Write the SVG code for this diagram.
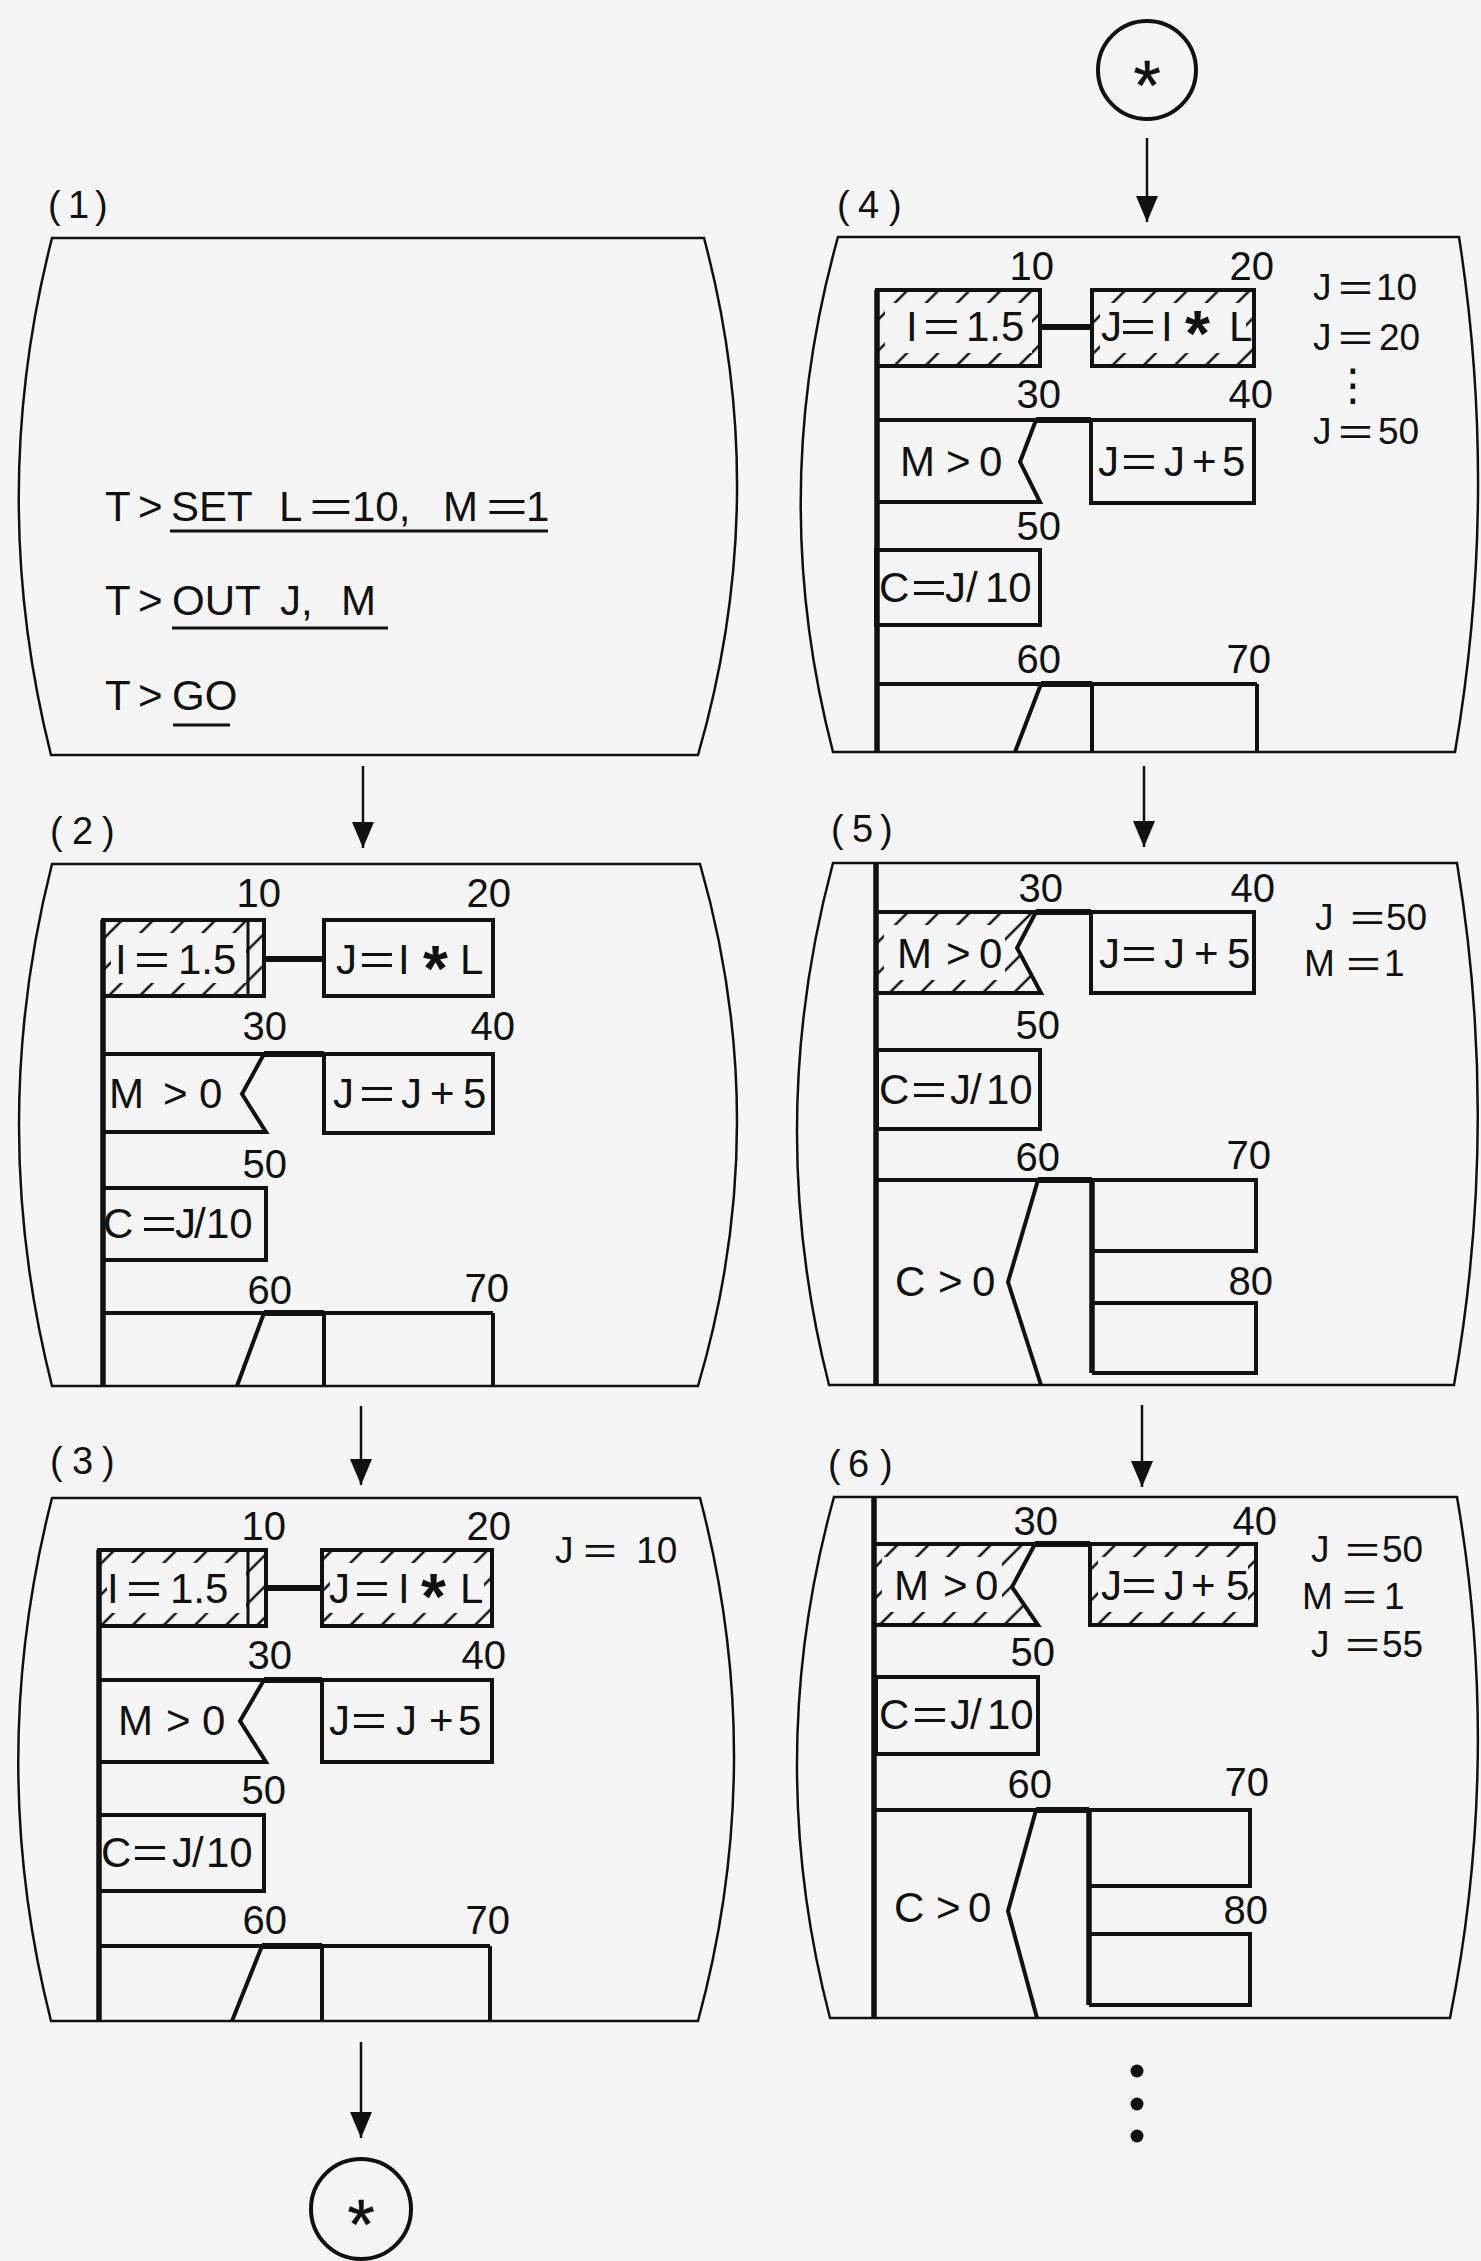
<svg xmlns="http://www.w3.org/2000/svg" width="1481" height="2261" viewBox="0 0 1481 2261">
<defs>
<style>
.scr{fill:none;stroke:#111;stroke-width:2.5}
.bx{fill:none;stroke:#111;stroke-width:4;stroke-linejoin:miter}
.th{fill:none;stroke:#111;stroke-width:6}
.sp{fill:none;stroke:#111;stroke-width:5.5}
.ln{fill:none;stroke:#111;stroke-width:3}
.h{fill:url(#hatch);fill-rule:evenodd;stroke:none}
.t{font-family:"Liberation Sans",Arial,sans-serif;fill:#111}
.n{font-size:40px;text-anchor:end}
.b{font-size:42px}
.v{font-size:37px}
.lb{font-size:38px}
.cmd{font-size:42px}
.ak{font-size:64px;font-weight:bold}
.arr{fill:none;stroke:#111;stroke-width:2.5;marker-end:url(#ah)}
.circ{fill:none;stroke:#111;stroke-width:4}
.ast{font-size:70px;text-anchor:middle;stroke:#111;stroke-width:0.5}
</style>
<pattern id="hatch" width="22" height="22" patternUnits="userSpaceOnUse" patternTransform="rotate(45)">
<line x1="11" y1="0" x2="11" y2="22" stroke="#111" stroke-width="2.5"/>
</pattern>
<marker id="ah" markerUnits="userSpaceOnUse" markerWidth="26" markerHeight="22" refX="26" refY="11" orient="auto">
<path d="M0,0 L26,11 L0,22 Z" fill="#111"/>
</marker>
</defs>
<rect x="0" y="0" width="1481" height="2261" fill="#f5f5f5"/>

<g id="panel1">
<path class="scr" d="M52,238 L704,238 Q773,496 698,755 L51,755 Q-14,496 52,238 Z"/>
<text class="t lb" y="218"><tspan x="48">(</tspan><tspan x="68">1</tspan><tspan x="95">)</tspan></text>
<text class="t cmd" y="521"><tspan x="105">T</tspan><tspan x="138">&gt;</tspan><tspan x="171">SET </tspan><tspan x="279">L</tspan><tspan x="309" textLength="44" lengthAdjust="spacingAndGlyphs">=</tspan><tspan x="352">10, </tspan><tspan x="443">M</tspan><tspan x="486" textLength="42" lengthAdjust="spacingAndGlyphs">=</tspan><tspan x="526">1</tspan></text>
<line class="ln" x1="170" y1="531" x2="548" y2="531"/>
<text class="t cmd" y="615"><tspan x="105">T</tspan><tspan x="138">&gt;</tspan><tspan x="172">OUT </tspan><tspan x="280">J, </tspan><tspan x="341">M</tspan></text>
<line class="ln" x1="172" y1="628" x2="388" y2="628"/>
<text class="t cmd" y="710"><tspan x="105">T</tspan><tspan x="138">&gt;</tspan><tspan x="172">GO</tspan></text>
<line class="ln" x1="173" y1="725" x2="230" y2="725"/>
</g>

<g id="panel2">
<path class="scr" d="M52,864 L700,864 Q775,1125 698,1386 L52,1386 Q-14,1125 52,864 Z"/>
<text class="t lb" y="844"><tspan x="50">(</tspan><tspan x="72">2</tspan><tspan x="102">)</tspan></text>
<line class="sp" x1="103" y1="920" x2="103" y2="1386"/>
<g id="p2-n10">
<path class="h" d="M103,920H264V996H103Z M111,933H246V983H111Z"/>
<rect class="bx" x="103" y="920" width="161" height="76"/>
<line class="ln" x1="248" y1="920" x2="248" y2="996"/>
<text class="t b" y="974"><tspan x="115">I</tspan><tspan x="134" textLength="36" lengthAdjust="spacingAndGlyphs">=</tspan><tspan x="178">1.5</tspan></text>
<text class="t n" x="281" y="907">10</text>
</g>
<line class="th" x1="264" y1="959" x2="324" y2="959"/>
<g id="p2-n20">
<rect class="bx" x="324" y="920" width="169" height="76"/>
<text class="t b" y="974"><tspan x="336">J</tspan><tspan x="359" textLength="36" lengthAdjust="spacingAndGlyphs">=</tspan><tspan x="398">I</tspan><tspan class="ak" x="423" y="991">*</tspan><tspan x="460" y="974">L</tspan></text>
<text class="t n" x="511" y="907">20</text>
</g>
<g id="p2-n30">
<path class="bx" d="M103,1054 H264 L242,1094 L266,1132 H103 Z"/>
<text class="t b" y="1108"><tspan x="109">M</tspan><tspan x="163">&gt;</tspan><tspan x="199">0</tspan></text>
<text class="t n" x="287" y="1040">30</text>
</g>
<line class="th" x1="264" y1="1054" x2="324" y2="1054"/>
<g id="p2-n40">
<rect class="bx" x="324" y="1054" width="169" height="79"/>
<text class="t b" y="1108"><tspan x="333">J</tspan><tspan x="359" textLength="36" lengthAdjust="spacingAndGlyphs">=</tspan><tspan x="401">J</tspan><tspan x="430">+</tspan><tspan x="463">5</tspan></text>
<text class="t n" x="515" y="1040">40</text>
</g>
<g id="p2-n50">
<rect class="bx" x="103" y="1188" width="163" height="72"/>
<text class="t b" y="1238"><tspan x="103">C</tspan><tspan x="141" textLength="36" lengthAdjust="spacingAndGlyphs">=</tspan><tspan x="175">J</tspan><tspan x="194">/</tspan><tspan x="206">10</tspan></text>
<text class="t n" x="287" y="1178">50</text>
</g>
<g id="p2-n60">
<path class="bx" d="M103,1313 H493 M264,1313 L237,1386 M324,1313 V1386 M493,1313 V1386"/>
<line class="th" x1="264" y1="1313" x2="324" y2="1313"/>
<text class="t n" x="292" y="1304">60</text>
<text class="t n" x="509" y="1302">70</text>
</g>
</g>

<g id="panel3">
<path class="scr" d="M52,1498 L700,1498 Q769,1760 698,2021 L51,2021 Q-15,1760 52,1498 Z"/>
<text class="t lb" y="1474"><tspan x="50">(</tspan><tspan x="72">3</tspan><tspan x="102">)</tspan></text>
<line class="sp" x1="99" y1="1550" x2="99" y2="2021"/>
<g id="p3-n10">
<path class="h" d="M99,1550H266V1626H99Z M107,1563H246V1613H107Z"/>
<rect class="bx" x="99" y="1550" width="167" height="76"/>
<line class="ln" x1="248" y1="1550" x2="248" y2="1626"/>
<text class="t b" y="1603"><tspan x="107">I</tspan><tspan x="126" textLength="36" lengthAdjust="spacingAndGlyphs">=</tspan><tspan x="170">1.5</tspan></text>
<text class="t n" x="286" y="1540">10</text>
</g>
<line class="th" x1="266" y1="1588" x2="322" y2="1588"/>
<g id="p3-n20">
<path class="h" d="M322,1550H492V1626H322Z M330,1563H484V1613H330Z"/>
<rect class="bx" x="322" y="1550" width="170" height="76"/>
<text class="t b" y="1603"><tspan x="329">J</tspan><tspan x="354" textLength="36" lengthAdjust="spacingAndGlyphs">=</tspan><tspan x="398">I</tspan><tspan class="ak" x="421" y="1619">*</tspan><tspan x="460" y="1603">L</tspan></text>
<text class="t n" x="511" y="1540">20</text>
</g>
<text class="t v" y="1563"><tspan x="555">J</tspan><tspan x="583" textLength="34" lengthAdjust="spacingAndGlyphs">=</tspan><tspan x="626"> 10</tspan></text>
<g id="p3-n30">
<path class="bx" d="M99,1680 H264 L240,1721 L266,1762 H99 Z"/>
<text class="t b" y="1735"><tspan x="118">M</tspan><tspan x="166">&gt;</tspan><tspan x="202">0</tspan></text>
<text class="t n" x="292" y="1669">30</text>
</g>
<line class="th" x1="264" y1="1680" x2="322" y2="1680"/>
<g id="p3-n40">
<rect class="bx" x="322" y="1680" width="170" height="82"/>
<text class="t b" y="1735"><tspan x="329">J</tspan><tspan x="351" textLength="36" lengthAdjust="spacingAndGlyphs">=</tspan><tspan x="396">J</tspan><tspan x="429">+</tspan><tspan x="458">5</tspan></text>
<text class="t n" x="506" y="1669">40</text>
</g>
<g id="p3-n50">
<rect class="bx" x="99" y="1815" width="165" height="76"/>
<text class="t b" y="1867"><tspan x="101">C</tspan><tspan x="132" textLength="36" lengthAdjust="spacingAndGlyphs">=</tspan><tspan x="172">J</tspan><tspan x="192">/</tspan><tspan x="206">10</tspan></text>
<text class="t n" x="286" y="1804">50</text>
</g>
<g id="p3-n60">
<path class="bx" d="M99,1946 H490 M262,1946 L232,2021 M322,1946 V2021 M490,1946 V2021"/>
<line class="th" x1="262" y1="1946" x2="322" y2="1946"/>
<text class="t n" x="287" y="1934">60</text>
<text class="t n" x="510" y="1934">70</text>
</g>
</g>

<g id="panel4">
<path class="scr" d="M838,237 L1459,237 Q1499,494 1455,752 L833,752 Q766,494 838,237 Z"/>
<text class="t lb" y="218"><tspan x="837">(</tspan><tspan x="858">4</tspan><tspan x="889">)</tspan></text>
<line class="sp" x1="877" y1="290" x2="877" y2="752"/>
<g id="p4-n10">
<path class="h" d="M877,290H1040V366H877Z M885,303H1032V353H885Z"/>
<rect class="bx" x="877" y="290" width="163" height="76"/>
<text class="t b" y="341"><tspan x="906">I</tspan><tspan x="923" textLength="37" lengthAdjust="spacingAndGlyphs">=</tspan><tspan x="966">1.5</tspan></text>
<text class="t n" x="1054" y="280">10</text>
</g>
<line class="th" x1="1040" y1="327" x2="1092" y2="327"/>
<g id="p4-n20">
<path class="h" d="M1092,290H1254V366H1092Z M1100,303H1246V353H1100Z"/>
<rect class="bx" x="1092" y="290" width="162" height="76"/>
<text class="t b" y="341"><tspan x="1101">J</tspan><tspan x="1120" textLength="36" lengthAdjust="spacingAndGlyphs">=</tspan><tspan x="1161">I</tspan><tspan class="ak" x="1185" y="356">*</tspan><tspan x="1229" y="341">L</tspan></text>
<text class="t n" x="1274" y="280">20</text>
</g>
<g id="p4-vars">
<text class="t v" y="300"><tspan x="1313">J</tspan><tspan x="1338" textLength="35" lengthAdjust="spacingAndGlyphs">=</tspan><tspan x="1376">10</tspan></text>
<text class="t v" y="350"><tspan x="1313">J</tspan><tspan x="1338" textLength="35" lengthAdjust="spacingAndGlyphs">=</tspan><tspan x="1379">20</tspan></text>
<text x="1353" y="400" font-family="DejaVu Sans,sans-serif" font-size="44" fill="#111" text-anchor="middle">⋮</text>
<text class="t v" y="444"><tspan x="1313">J</tspan><tspan x="1338" textLength="35" lengthAdjust="spacingAndGlyphs">=</tspan><tspan x="1378">50</tspan></text>
</g>
<g id="p4-n30">
<path class="bx" d="M877,420 H1036 L1020,462 L1040,502 H877 Z"/>
<text class="t b" y="476"><tspan x="900">M</tspan><tspan x="946">&gt;</tspan><tspan x="979">0</tspan></text>
<text class="t n" x="1061" y="408">30</text>
</g>
<line class="th" x1="1036" y1="420" x2="1091" y2="420"/>
<g id="p4-n40">
<rect class="bx" x="1091" y="420" width="163" height="83"/>
<text class="t b" y="476"><tspan x="1098">J</tspan><tspan x="1121" textLength="36" lengthAdjust="spacingAndGlyphs">=</tspan><tspan x="1164">J</tspan><tspan x="1192">+</tspan><tspan x="1222">5</tspan></text>
<text class="t n" x="1273" y="408">40</text>
</g>
<g id="p4-n50">
<rect class="bx" x="876" y="550" width="164" height="75"/>
<text class="t b" y="602"><tspan x="879">C</tspan><tspan x="911" textLength="36" lengthAdjust="spacingAndGlyphs">=</tspan><tspan x="945">J</tspan><tspan x="966">/</tspan><tspan x="985">10</tspan></text>
<text class="t n" x="1061" y="540">50</text>
</g>
<g id="p4-n60">
<path class="bx" d="M876,684 H1257 M1041,684 L1015,752 M1092,684 V752 M1257,684 V752"/>
<line class="th" x1="1041" y1="684" x2="1092" y2="684"/>
<text class="t n" x="1061" y="673">60</text>
<text class="t n" x="1271" y="673">70</text>
</g>
</g>

<g id="panel5">
<path class="scr" d="M833,863 L1457,863 Q1500,1124 1454,1385 L829,1385 Q763,1124 833,863 Z"/>
<text class="t lb" y="842"><tspan x="831">(</tspan><tspan x="852">5</tspan><tspan x="880">)</tspan></text>
<line class="sp" x1="876" y1="863" x2="876" y2="1385"/>
<g id="p5-n30">
<path class="h" d="M876,912 H1036 L1017,948 L1041,993 H876 Z M884,925 H1005 V980 H884 Z"/>
<path class="bx" d="M876,912 H1036 L1017,948 L1041,993 H876 Z"/>
<text class="t b" y="968"><tspan x="897">M</tspan><tspan x="946">&gt;</tspan><tspan x="979">0</tspan></text>
<text class="t n" x="1063" y="902">30</text>
</g>
<line class="th" x1="1036" y1="912" x2="1091" y2="912"/>
<g id="p5-n40">
<rect class="bx" x="1091" y="912" width="163" height="81"/>
<text class="t b" y="968"><tspan x="1099">J</tspan><tspan x="1121" textLength="36" lengthAdjust="spacingAndGlyphs">=</tspan><tspan x="1164">J</tspan><tspan x="1194">+</tspan><tspan x="1227">5</tspan></text>
<text class="t n" x="1275" y="902">40</text>
</g>
<g id="p5-vars">
<text class="t v" y="930"><tspan x="1315">J </tspan><tspan x="1350" textLength="35" lengthAdjust="spacingAndGlyphs">=</tspan><tspan x="1386">50</tspan></text>
<text class="t v" y="976"><tspan x="1304">M</tspan><tspan x="1346" textLength="35" lengthAdjust="spacingAndGlyphs">=</tspan><tspan x="1384">1</tspan></text>
</g>
<g id="p5-n50">
<rect class="bx" x="877" y="1050" width="163" height="79"/>
<text class="t b" y="1104"><tspan x="879">C</tspan><tspan x="911" textLength="36" lengthAdjust="spacingAndGlyphs">=</tspan><tspan x="950">J</tspan><tspan x="970">/</tspan><tspan x="986">10</tspan></text>
<text class="t n" x="1060" y="1039">50</text>
</g>
<g id="p5-n60">
<path class="bx" d="M876,1180 H1256 M1038,1180 L1008,1282 L1041,1385"/>
<line class="th" x1="1038" y1="1180" x2="1092" y2="1180"/>
<text class="t b" y="1296"><tspan x="895">C </tspan><tspan x="938">&gt;</tspan><tspan x="972">0</tspan></text>
<text class="t n" x="1060" y="1171">60</text>
</g>
<g id="p5-n70">
<line class="sp" x1="1092" y1="1180" x2="1092" y2="1373"/>
<path class="bx" d="M1092,1180 H1256 V1251 H1092"/>
<text class="t n" x="1271" y="1169">70</text>
</g>
<g id="p5-n80">
<path class="bx" d="M1092,1303 H1256 V1373 H1092"/>
<text class="t n" x="1273" y="1295">80</text>
</g>
</g>

<g id="panel6">
<path class="scr" d="M834,1497 L1457,1497 Q1502,1757 1450,2018 L830,2018 Q762,1757 834,1497 Z"/>
<text class="t lb" y="1477"><tspan x="828">(</tspan><tspan x="848">6</tspan><tspan x="880">)</tspan></text>
<line class="sp" x1="874" y1="1497" x2="874" y2="2018"/>
<g id="p6-n30">
<path class="h" d="M874,1544 H1035 L1012,1587 L1038,1625 H874 Z M882,1557 H1002 V1612 H882 Z"/>
<path class="bx" d="M874,1544 H1035 L1012,1587 L1038,1625 H874 Z"/>
<text class="t b" y="1600"><tspan x="894">M</tspan><tspan x="943">&gt;</tspan><tspan x="975">0</tspan></text>
<text class="t n" x="1058" y="1535">30</text>
</g>
<line class="th" x1="1035" y1="1544" x2="1090" y2="1544"/>
<g id="p6-n40">
<path class="h" d="M1090,1544H1256V1625H1090Z M1098,1557H1248V1612H1098Z"/>
<rect class="bx" x="1090" y="1544" width="166" height="81"/>
<text class="t b" y="1600"><tspan x="1101">J</tspan><tspan x="1121" textLength="36" lengthAdjust="spacingAndGlyphs">=</tspan><tspan x="1164">J</tspan><tspan x="1191">+</tspan><tspan x="1226">5</tspan></text>
<text class="t n" x="1277" y="1535">40</text>
</g>
<g id="p6-vars">
<text class="t v" y="1562"><tspan x="1311">J </tspan><tspan x="1345" textLength="35" lengthAdjust="spacingAndGlyphs">=</tspan><tspan x="1382">50</tspan></text>
<text class="t v" y="1609"><tspan x="1302">M</tspan><tspan x="1342" textLength="35" lengthAdjust="spacingAndGlyphs">=</tspan><tspan x="1384">1</tspan></text>
<text class="t v" y="1657"><tspan x="1311">J </tspan><tspan x="1345" textLength="35" lengthAdjust="spacingAndGlyphs">=</tspan><tspan x="1382">55</tspan></text>
</g>
<g id="p6-n50">
<rect class="bx" x="876" y="1677" width="162" height="77"/>
<text class="t b" y="1729"><tspan x="879">C</tspan><tspan x="912" textLength="36" lengthAdjust="spacingAndGlyphs">=</tspan><tspan x="950">J</tspan><tspan x="970">/</tspan><tspan x="987">10</tspan></text>
<text class="t n" x="1055" y="1666">50</text>
</g>
<g id="p6-n60">
<path class="bx" d="M874,1810 H1250 M1036,1810 L1008,1911 L1037,2018"/>
<line class="th" x1="1036" y1="1810" x2="1089" y2="1810"/>
<text class="t b" y="1922"><tspan x="894">C </tspan><tspan x="936">&gt;</tspan><tspan x="968">0</tspan></text>
<text class="t n" x="1052" y="1798">60</text>
</g>
<g id="p6-n70">
<line class="sp" x1="1089" y1="1810" x2="1089" y2="2005"/>
<path class="bx" d="M1089,1810 H1250 V1886 H1089"/>
<text class="t n" x="1269" y="1796">70</text>
</g>
<g id="p6-n80">
<path class="bx" d="M1089,1934 H1250 V2005 H1089"/>
<text class="t n" x="1268" y="1924">80</text>
</g>
<g id="p6-more" fill="#111">
<circle cx="1137" cy="2071" r="6.5"/>
<circle cx="1137" cy="2104" r="6.5"/>
<circle cx="1137" cy="2136" r="6.5"/>
</g>
</g>

<g id="conn-out">
<circle class="circ" cx="361" cy="2209" r="50"/>
<text class="t ast" x="361" y="2249">*</text>
</g>
<g id="conn-in">
<circle class="circ" cx="1147" cy="70" r="49"/>
<text class="t ast" x="1147" y="110">*</text>
</g>

<g id="connectors">
<line class="arr" x1="363" y1="766" x2="363" y2="848"/>
<line class="arr" x1="361" y1="1406" x2="361" y2="1485"/>
<line class="arr" x1="361" y1="2042" x2="361" y2="2138"/>
<line class="arr" x1="1147" y1="138" x2="1147" y2="222"/>
<line class="arr" x1="1144" y1="766" x2="1144" y2="847"/>
<line class="arr" x1="1142" y1="1405" x2="1142" y2="1487"/>
</g>
</svg>
